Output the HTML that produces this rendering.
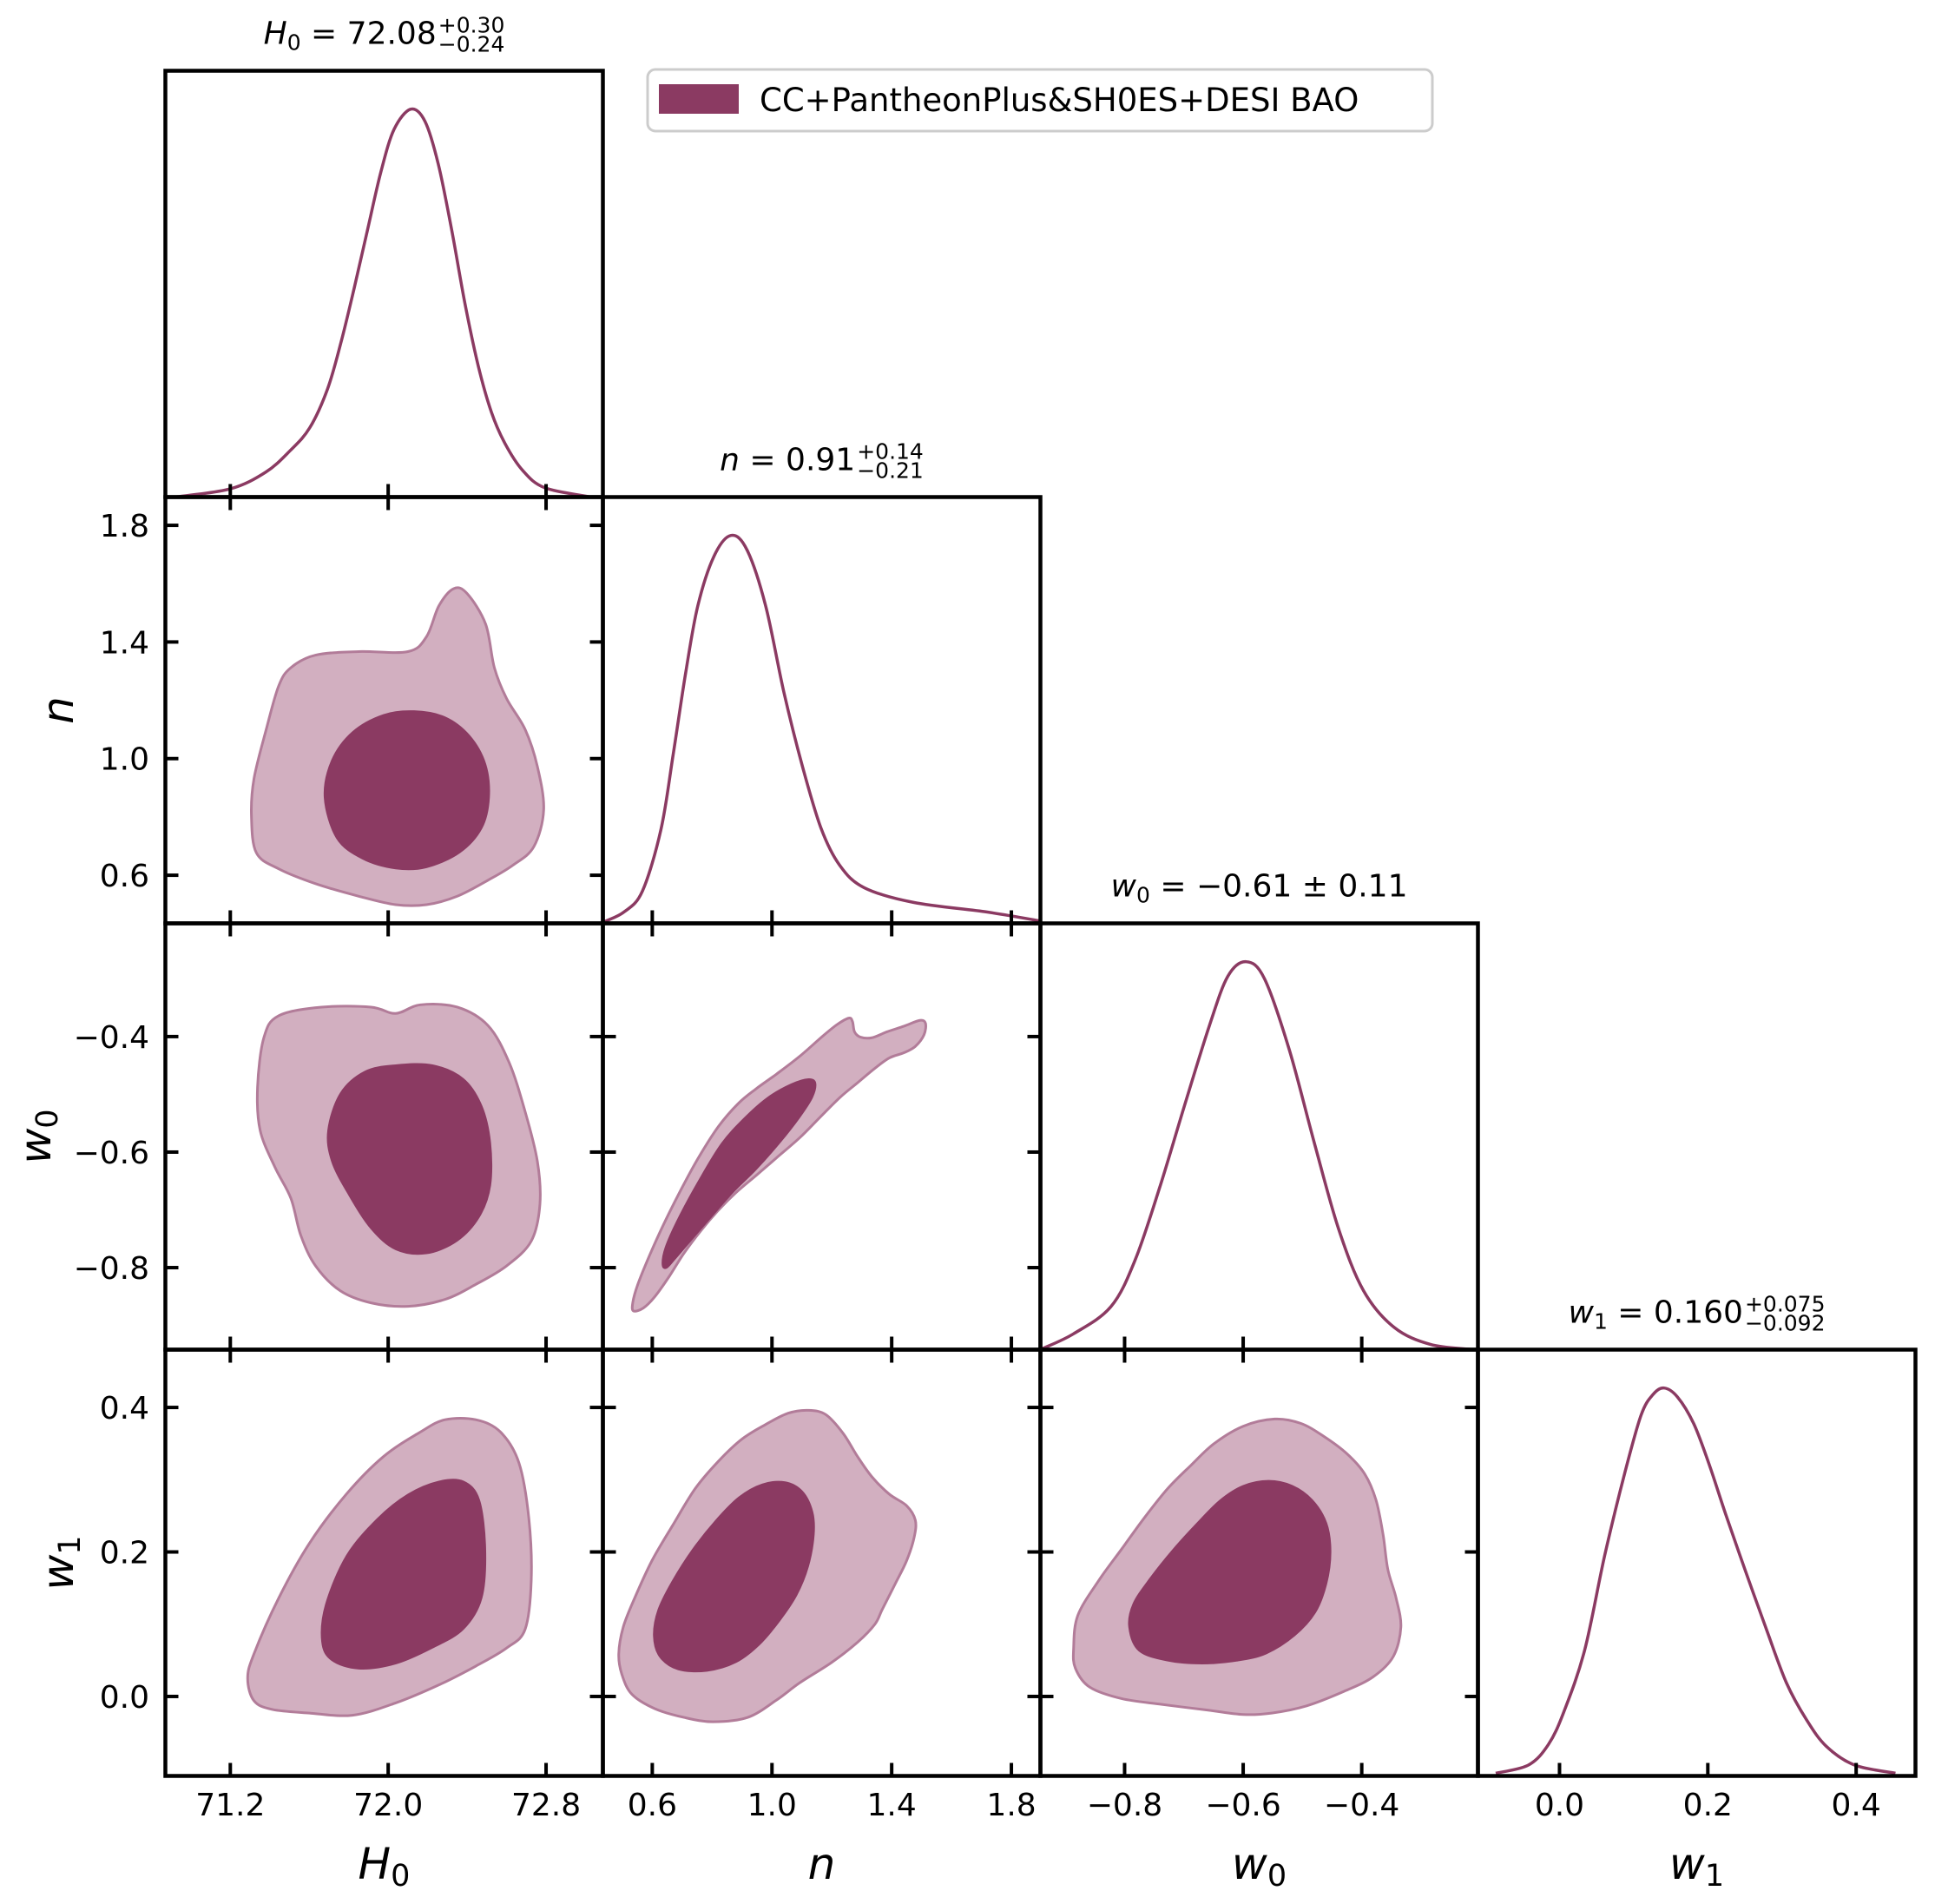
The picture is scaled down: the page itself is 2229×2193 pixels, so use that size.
<!DOCTYPE html>
<html><head><meta charset="utf-8"><title>Corner plot</title>
<style>
html,body{margin:0;padding:0;background:#fff;}
svg{display:block;font-family:"DejaVu Sans","Liberation Sans",sans-serif;}
</style></head>
<body>
<svg id="chart" width="2229" height="2193" viewBox="0 0 2229 2193" xmlns="http://www.w3.org/2000/svg">
<rect x="0" y="0" width="2229" height="2193" fill="#fff"/>
<g id="marks"></g>
<g id="frames"></g>
<g id="texts"></g>
<g>
<rect x="746" y="80" width="904" height="71" rx="9" fill="#fff" stroke="#cccccc" stroke-width="3"/>
<rect x="759" y="97" width="92" height="34" fill="#8b3a62"/>
<text x="875" y="128" font-size="37" fill="#000">CC+PantheonPlus&amp;SH0ES+DESI BAO</text>
</g>
</svg>
<script>
// ---------- data ----------
const paramNames = ["H0","n","w0","w1"];
const rangeH0 = [70.871, 73.088];
const rangeN = [0.435, 1.897];
const rangeW0 = [-0.942, -0.204];
const rangeW1 = [-0.110, 0.480];
const ticksH0 = [71.2, 72.0, 72.8];
const ticksN = [0.6, 1.0, 1.4, 1.8];
const ticksW0 = [-0.8, -0.6, -0.4];
const ticksW1 = [0.0, 0.2, 0.4];

const h0Grid = [70.918,71.199,71.379,71.502,71.603,71.693,71.761,71.828,71.895,71.963,72.030,72.115,72.187,72.254,72.322,72.389,72.456,72.523,72.591,72.681,72.793,73.018];
const h0Density = [0.0,0.021,0.064,0.119,0.179,0.279,0.399,0.539,0.688,0.838,0.948,1.0,0.968,0.858,0.688,0.499,0.339,0.219,0.139,0.069,0.024,0.001];
const nGrid = [0.435,0.505,0.567,0.629,0.670,0.711,0.752,0.806,0.863,0.917,0.979,1.040,1.102,1.164,1.226,1.308,1.473,1.720,1.897];
const nDensity = [0.003,0.029,0.083,0.242,0.436,0.643,0.818,0.946,1.0,0.962,0.818,0.595,0.404,0.245,0.150,0.092,0.054,0.029,0.006];
const w0Grid = [-0.938,-0.886,-0.823,-0.782,-0.740,-0.699,-0.657,-0.626,-0.595,-0.564,-0.522,-0.480,-0.439,-0.397,-0.345,-0.283,-0.210];
const w0Density = [0.003,0.041,0.111,0.232,0.422,0.629,0.835,0.962,1.0,0.956,0.772,0.533,0.311,0.152,0.057,0.013,0.0];
const w1Grid = [-0.086,-0.042,-0.015,0.006,0.034,0.061,0.088,0.110,0.126,0.141,0.159,0.181,0.202,0.224,0.251,0.279,0.306,0.333,0.360,0.398,0.453];
const w1Density = [0.007,0.028,0.081,0.166,0.325,0.569,0.781,0.930,0.983,1.0,0.977,0.908,0.802,0.675,0.527,0.378,0.240,0.145,0.076,0.028,0.007];

const contourH0N95 = [[71.507,1.312],[71.632,1.355],[71.851,1.367],[72.100,1.367],[72.194,1.418],[72.257,1.524],[72.332,1.583],[72.400,1.566],[72.494,1.461],[72.538,1.312],[72.600,1.206],[72.694,1.100],[72.756,0.973],[72.788,0.825],[72.738,0.698],[72.631,0.634],[72.506,0.583],[72.350,0.528],[72.194,0.499],[72.038,0.499],[71.851,0.528],[71.632,0.571],[71.445,0.622],[71.332,0.677],[71.307,0.804],[71.320,0.931],[71.382,1.100],[71.445,1.249]];
const contourH0N68 = [[71.676,0.867],[71.713,0.994],[71.819,1.092],[71.976,1.151],[72.132,1.164],[72.288,1.143],[72.413,1.079],[72.494,0.982],[72.513,0.867],[72.475,0.761],[72.363,0.677],[72.194,0.626],[72.038,0.622],[71.869,0.656],[71.738,0.727]];
const contourH0W095 = [[71.370,-0.402],[71.445,-0.364],[71.663,-0.349],[71.913,-0.349],[72.038,-0.360],[72.163,-0.345],[72.350,-0.349],[72.506,-0.381],[72.613,-0.445],[72.694,-0.530],[72.756,-0.616],[72.769,-0.690],[72.725,-0.754],[72.600,-0.797],[72.444,-0.829],[72.288,-0.855],[72.100,-0.867],[71.913,-0.861],[71.757,-0.840],[71.632,-0.797],[71.557,-0.744],[71.507,-0.680],[71.426,-0.626],[71.351,-0.562],[71.338,-0.488]];
const contourH0W068 = [[71.694,-0.562],[71.757,-0.498],[71.882,-0.460],[72.038,-0.449],[72.225,-0.449],[72.382,-0.473],[72.475,-0.520],[72.519,-0.584],[72.519,-0.658],[72.463,-0.712],[72.350,-0.754],[72.194,-0.776],[72.038,-0.769],[71.913,-0.733],[71.801,-0.675],[71.713,-0.616]];
const contourH0W195 = [[71.288,0.025],[71.320,0.059],[71.445,0.136],[71.601,0.212],[71.788,0.280],[71.976,0.332],[72.163,0.366],[72.288,0.383],[72.444,0.383],[72.569,0.366],[72.663,0.323],[72.713,0.246],[72.725,0.161],[72.694,0.093],[72.600,0.067],[72.444,0.042],[72.257,0.016],[72.038,-0.009],[71.819,-0.026],[71.601,-0.023],[71.413,-0.018],[71.320,-0.006]];
const contourH0W168 = [[71.663,0.076],[71.682,0.127],[71.788,0.195],[71.944,0.246],[72.100,0.280],[72.257,0.298],[72.382,0.298],[72.463,0.272],[72.494,0.204],[72.475,0.136],[72.382,0.093],[72.225,0.067],[72.038,0.045],[71.851,0.038],[71.713,0.050]];
const contourNW095 = [[0.537,-0.875],[0.535,-0.860],[0.551,-0.830],[0.590,-0.780],[0.638,-0.725],[0.696,-0.665],[0.754,-0.610],[0.822,-0.555],[0.889,-0.515],[0.948,-0.490],[1.015,-0.465],[1.093,-0.434],[1.170,-0.399],[1.218,-0.379],[1.257,-0.368],[1.269,-0.374],[1.276,-0.392],[1.296,-0.401],[1.334,-0.402],[1.383,-0.392],[1.441,-0.382],[1.494,-0.372],[1.513,-0.377],[1.508,-0.397],[1.479,-0.417],[1.441,-0.428],[1.392,-0.437],[1.344,-0.455],[1.286,-0.480],[1.228,-0.505],[1.160,-0.540],[1.093,-0.575],[1.015,-0.610],[0.948,-0.640],[0.880,-0.670],[0.822,-0.700],[0.764,-0.735],[0.706,-0.775],[0.657,-0.815],[0.609,-0.850],[0.570,-0.870]];
const contourNW068 = [[0.633,-0.795],[0.643,-0.765],[0.686,-0.715],[0.754,-0.650],[0.831,-0.585],[0.909,-0.540],[0.986,-0.505],[1.064,-0.482],[1.122,-0.473],[1.146,-0.480],[1.136,-0.505],[1.093,-0.540],[1.025,-0.585],[0.948,-0.630],[0.870,-0.670],[0.802,-0.710],[0.735,-0.750],[0.677,-0.785],[0.648,-0.801]];
const contourNW195 = [[0.488,0.059],[0.503,0.096],[0.541,0.136],[0.599,0.188],[0.667,0.236],[0.744,0.288],[0.822,0.326],[0.899,0.356],[0.977,0.376],[1.054,0.392],[1.122,0.396],[1.180,0.390],[1.238,0.364],[1.286,0.332],[1.334,0.304],[1.392,0.280],[1.450,0.264],[1.479,0.244],[1.475,0.220],[1.450,0.188],[1.412,0.156],[1.368,0.120],[1.344,0.100],[1.286,0.075],[1.199,0.047],[1.093,0.019],[1.015,-0.005],[0.919,-0.029],[0.802,-0.035],[0.706,-0.029],[0.609,-0.017],[0.532,0.003],[0.498,0.031]];
const contourNW168 = [[0.604,0.084],[0.619,0.120],[0.667,0.160],[0.735,0.204],[0.812,0.244],[0.889,0.276],[0.967,0.294],[1.044,0.297],[1.102,0.284],[1.136,0.256],[1.141,0.224],[1.122,0.180],[1.083,0.140],[1.025,0.104],[0.957,0.071],[0.880,0.047],[0.783,0.035],[0.686,0.037],[0.624,0.055]];
const contourW0W195 = [[-0.886,0.067],[-0.879,0.112],[-0.844,0.160],[-0.805,0.204],[-0.766,0.248],[-0.727,0.288],[-0.688,0.320],[-0.649,0.350],[-0.600,0.374],[-0.547,0.384],[-0.503,0.378],[-0.464,0.360],[-0.425,0.336],[-0.395,0.308],[-0.376,0.272],[-0.364,0.224],[-0.356,0.176],[-0.342,0.136],[-0.334,0.096],[-0.347,0.055],[-0.381,0.027],[-0.430,0.007],[-0.493,-0.013],[-0.552,-0.023],[-0.600,-0.025],[-0.659,-0.019],[-0.737,-0.011],[-0.805,-0.003],[-0.859,0.013],[-0.883,0.039]];
const contourW0W168 = [[-0.793,0.096],[-0.786,0.128],[-0.757,0.164],[-0.718,0.204],[-0.678,0.240],[-0.639,0.272],[-0.600,0.292],[-0.557,0.299],[-0.517,0.292],[-0.483,0.272],[-0.459,0.240],[-0.452,0.200],[-0.459,0.156],[-0.478,0.116],[-0.513,0.084],[-0.561,0.059],[-0.610,0.049],[-0.669,0.045],[-0.727,0.049],[-0.776,0.063]];

// ---------- layout ----------
const NS = "http://www.w3.org/2000/svg";
const colX = [190.5, 694.5, 1198.5, 1702.5];
const rowY = [81.5, 572.5, 1063.5, 1554.5];
const PW = 504, PH = 491;
const ranges = [rangeH0, rangeN, rangeW0, rangeW1];
const ticks = [ticksH0, ticksN, ticksW0, ticksW1];
const DARK = "#8b3a62", LIGHT = "#d2afc0", EDGE = "#b27c99";

function xScale(c, v){ const r = ranges[c]; return colX[c] + (v - r[0]) / (r[1] - r[0]) * PW; }
function yScale(r, v){ const g = ranges[r]; return rowY[r] + PH - (v - g[0]) / (g[1] - g[0]) * PH; }
function dScale(r, d){ return rowY[r] + PH - d * PH * 0.91; }

function mk(tag, attrs, parent){
  const e = document.createElementNS(NS, tag);
  for (const k in attrs) e.setAttribute(k, attrs[k]);
  parent.appendChild(e); return e;
}
function smoothPath(pts, closed){
  const n = pts.length; let d = "M" + pts[0][0].toFixed(2) + "," + pts[0][1].toFixed(2);
  const get = i => closed ? pts[(i + n) % n] : pts[Math.max(0, Math.min(n - 1, i))];
  const last = closed ? n : n - 1;
  for (let i = 0; i < last; i++){
    const p0 = get(i - 1), p1 = get(i), p2 = get(i + 1), p3 = get(i + 2);
    const c1 = [p1[0] + (p2[0] - p0[0]) / 6, p1[1] + (p2[1] - p0[1]) / 6];
    const c2 = [p2[0] - (p3[0] - p1[0]) / 6, p2[1] - (p3[1] - p1[1]) / 6];
    d += "C" + c1[0].toFixed(2) + "," + c1[1].toFixed(2) + " " + c2[0].toFixed(2) + "," + c2[1].toFixed(2) + " " + p2[0].toFixed(2) + "," + p2[1].toFixed(2);
  }
  return closed ? d + "Z" : d;
}

const marks = document.getElementById("marks");
const frames = document.getElementById("frames");
const texts = document.getElementById("texts");

const defs = mk("defs", {}, document.getElementById("chart"));
for (let r = 0; r < 4; r++) for (let c = 0; c <= r; c++){
  const cp = mk("clipPath", {id: "clip" + r + c}, defs);
  mk("rect", {x: colX[c], y: rowY[r], width: PW, height: PH}, cp);
}

const grids = [h0Grid, nGrid, w0Grid, w1Grid];
const dens = [h0Density, nDensity, w0Density, w1Density];
for (let i = 0; i < 4; i++){
  const pts = grids[i].map((v, k) => [xScale(i, v), dScale(i, dens[i][k])]);
  const p = mk("path", {d: smoothPath(pts, false), fill: "none", stroke: DARK, "stroke-width": 3.5, "clip-path": "url(#clip" + i + i + ")"}, marks);
  
  
}

const contours = [
  [1, 0, contourH0N95, contourH0N68],
  [2, 0, contourH0W095, contourH0W068],
  [3, 0, contourH0W195, contourH0W168],
  [2, 1, contourNW095, contourNW068],
  [3, 1, contourNW195, contourNW168],
  [3, 2, contourW0W195, contourW0W168]
];
contours.forEach(([r, c, outer, inner]) => {
  const po = outer.map(p => [xScale(c, p[0]), yScale(r, p[1])]);
  const pi = inner.map(p => [xScale(c, p[0]), yScale(r, p[1])]);
  const a = mk("path", {d: smoothPath(po, true), fill: LIGHT, stroke: EDGE, "stroke-width": 3, "clip-path": "url(#clip" + r + c + ")"}, marks);
  
  
  const b = mk("path", {d: smoothPath(pi, true), fill: DARK, stroke: DARK, "stroke-width": 1, "clip-path": "url(#clip" + r + c + ")"}, marks);
  
  
});

const TL = 15, TW = 4;
function fmt(v){ const s = v.toFixed(1); return v < 0 ? "\u2212" + s.slice(1) : s; }
for (let r = 0; r < 4; r++) for (let c = 0; c <= r; c++){
  const x0 = colX[c], y0 = rowY[r];
  const fr = mk("rect", {x: x0, y: y0, width: PW, height: PH, fill: "none", stroke: "#000", "stroke-width": 4.5}, frames);
  
  
  ticks[c].forEach(t => {
    const x = xScale(c, t);
    mk("line", {x1: x, x2: x, y1: y0 + PH, y2: y0 + PH - TL, stroke: "#000", "stroke-width": TW}, frames);
    if (r !== c) mk("line", {x1: x, x2: x, y1: y0, y2: y0 + TL, stroke: "#000", "stroke-width": TW}, frames);
  });
  if (r !== c){
    ticks[r].forEach(t => {
      const y = yScale(r, t);
      mk("line", {x1: x0, x2: x0 + TL, y1: y, y2: y, stroke: "#000", "stroke-width": TW}, frames);
      mk("line", {x1: x0 + PW, x2: x0 + PW - TL, y1: y, y2: y, stroke: "#000", "stroke-width": TW}, frames);
    });
  }
}

for (let c = 0; c < 4; c++){
  ticks[c].forEach(t => {
    const e = mk("text", {x: xScale(c, t), y: 2091, "font-size": 36, "text-anchor": "middle", fill: "#000"}, texts);
    e.textContent = fmt(t);
    
    
  });
}
for (let r = 1; r < 4; r++){
  ticks[r].forEach(t => {
    const e = mk("text", {x: 172, y: yScale(r, t) + 13, "font-size": 36, "text-anchor": "end", fill: "#000"}, texts);
    e.textContent = fmt(t);
    
    
  });
}

const sym = [["H","0"],["n",""],["w","0"],["w","1"]];
const yLabelX = [0, 84, 58, 84];
for (let c = 0; c < 4; c++){
  const e = mk("text", {x: colX[c] + PW / 2, y: 2164, "font-size": 50, "text-anchor": "middle", fill: "#000"}, texts);
  e.innerHTML = '<tspan font-style="italic">' + sym[c][0] + '</tspan>' + (sym[c][1] ? '<tspan font-size="35" dy="8">' + sym[c][1] + '</tspan>' : '');
  
  
}
for (let r = 1; r < 4; r++){
  const cy = rowY[r] + PH / 2;
  const e = mk("text", {x: 0, y: 0, "font-size": 50, "text-anchor": "middle", fill: "#000", transform: "translate(" + yLabelX[r] + "," + cy + ") rotate(-90)"}, texts);
  e.innerHTML = '<tspan font-style="italic">' + sym[r][0] + '</tspan>' + (sym[r][1] ? '<tspan font-size="35" dy="8">' + sym[r][1] + '</tspan>' : '');
  
  
}

const titleMain = [" = 72.08", " = 0.91", " = \u22120.61 \u00b1 0.11", " = 0.160"];
const titleSup = ["+0.30", "+0.14", "", "+0.075"];
const titleSub = ["\u22120.24", "\u22120.21", "", "\u22120.092"];
for (let i = 0; i < 4; i++){
  const g = mk("g", {}, texts);
  
  
  const base = rowY[i] - 31;
  const m = mk("text", {x: 0, y: base, "font-size": 36, fill: "#000"}, g);
  m.innerHTML = '<tspan font-style="italic">' + sym[i][0] + '</tspan>' + (sym[i][1] ? '<tspan font-size="25" dy="7">' + sym[i][1] + '</tspan><tspan dy="-7">' + titleMain[i] + '</tspan>' : '<tspan>' + titleMain[i] + '</tspan>');
  const mw = m.getComputedTextLength();
  let sw = 0;
  if (titleSup[i]){
    const s1 = mk("text", {x: mw + 2, y: base - 13, "font-size": 25, fill: "#000"}, g);
    s1.textContent = titleSup[i];
    const s2 = mk("text", {x: mw + 2, y: base + 9, "font-size": 25, fill: "#000"}, g);
    s2.textContent = titleSub[i];
    sw = Math.max(s1.getComputedTextLength(), s2.getComputedTextLength()) + 2;
  }
  const total = mw + sw;
  g.setAttribute("transform", "translate(" + (colX[i] + PW / 2 - total / 2) + ",0)");
}
</script>
</body></html>
